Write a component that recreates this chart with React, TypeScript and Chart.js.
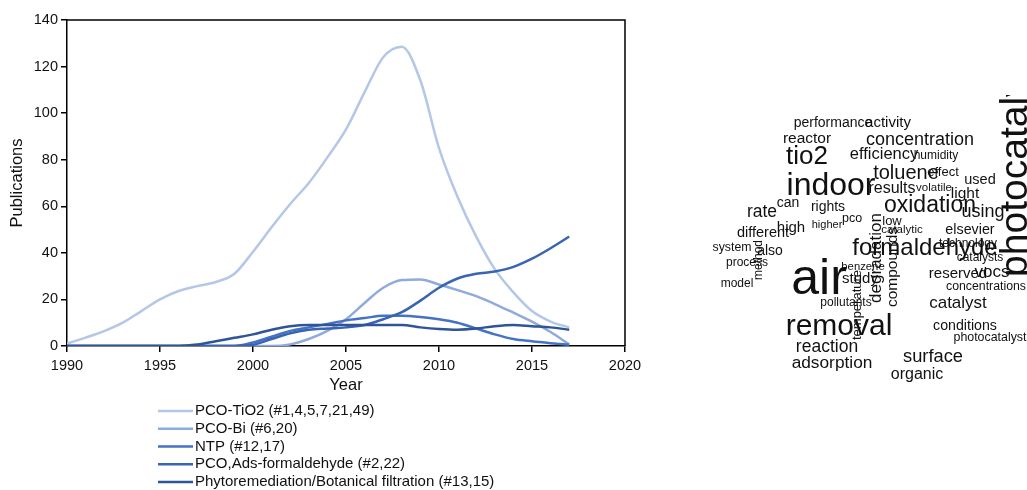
import React, { useEffect, useRef } from "react";
import { Chart, registerables } from "chart.js";

Chart.register(...registerables);

const FONT = '"Liberation Sans", Arial, sans-serif';

// ---------- line chart data ----------
const years = [
  1990, 1991, 1992, 1993, 1994, 1995, 1996, 1997, 1998, 1999,
  2000, 2001, 2002, 2003, 2004, 2005, 2006, 2007, 2008, 2009,
  2010, 2011, 2012, 2013, 2014, 2015, 2016, 2017,
];

const pcoTiO2 = [
  1, 3.6, 6.4, 10, 15, 20, 23.6, 25.7, 27.5, 31,
  40.5, 51, 61, 70, 81, 93, 109, 124, 128.5, 114,
  85, 64, 47, 33, 23, 15, 10.5, 8,
];
const pcoBi = [
  0, 0, 0, 0, 0, 0, 0, 0, 0, 0,
  0, 0, 0.7, 3, 6.5, 11.5, 18.5, 25, 28.3, 28.6,
  26.4, 24, 21.4, 18, 14.3, 10.5, 6, 0.7,
];
const ntp = [
  0, 0, 0, 0, 0, 0, 0, 0, 0, 0,
  1.5, 4, 6.5, 8, 9.5, 11, 12, 13, 13, 12.5,
  11.5, 10, 7.5, 5, 3, 2, 1.2, 0.5,
];
const pcoAdsFormaldehyde = [
  0, 0, 0, 0, 0, 0, 0, 0, 0, 0,
  0.5, 3, 5.5, 7, 7.5, 8, 9, 11.5, 14.5, 19.5,
  25, 29, 31, 32, 34, 37.5, 42, 47,
];
const phytoremediation = [
  0, 0, 0, 0, 0, 0, 0, 0.6, 2, 3.5,
  5, 7, 8.5, 9, 9, 9, 9, 9, 9, 8,
  7.3, 7, 7.5, 8.5, 9, 8.5, 8, 7,
];

const seriesLabels = [
  "PCO-TiO2 (#1,4,5,7,21,49)",
  "PCO-Bi (#6,20)",
  "NTP (#12,17)",
  "PCO,Ads-formaldehyde (#2,22)",
  "Phytoremediation/Botanical filtration (#13,15)",
];
const seriesValues = [pcoTiO2, pcoBi, ntp, pcoAdsFormaldehyde, phytoremediation];
const seriesColors = ["#b4c7e7", "#8faadc", "#4472c4", "#3864b4", "#2f5597"];

const xTicks = [1990, 1995, 2000, 2005, 2010, 2015, 2020];
const yTicks = [0, 20, 40, 60, 80, 100, 120, 140];

// ---------- word cloud data ----------
const words = [
  "performance", "activity", "reactor", "concentration", "tio2", "efficiency",
  "humidity", "toluene", "effect", "indoor", "results", "volatile", "used",
  "light", "oxidation", "using", "rate", "can", "rights", "higher", "pco",
  "high", "different", "low", "catalytic", "elsevier", "technology",
  "formaldehyde", "degradation", "compounds", "system", "also", "method",
  "process", "model", "air", "benzene", "study", "temperature", "pollutants",
  "reserved", "vocs", "catalysts", "concentrations", "catalyst", "removal",
  "conditions", "photocatalyst", "reaction", "adsorption", "surface",
  "organic", "photocatalyst",
];
// word weights (font size in px)
const wordWeight = [
  14, 15, 15.5, 18, 26, 16.5,
  12, 20, 13, 32, 16, 11.5, 14.5,
  15.5, 23, 18, 17.5, 14, 14, 11, 12.5,
  15, 14.5, 13, 11.5, 14.3, 12,
  24, 17, 15.5, 12.3, 14, 12,
  12, 12, 50, 11.3, 15, 13, 12,
  15, 17, 12, 12.3, 17, 30,
  14.2, 12.4, 17.5, 17.3, 18.3,
  16, 39,
];
// word-cloud layout (centre of each word in the cloud's coordinate space)
const wordX = [
  833, 888, 807, 920, 807, 884,
  936, 906, 943, 831, 892, 934, 980,
  965, 930, 983, 762, 788, 828, 827, 852,
  791, 763, 892, 902, 970, 968,
  925, 876, 893, 732, 770, 759,
  747, 737, 819, 863, 860, 857, 846,
  958, 992, 980, 986, 958, 839,
  965, 990, 827, 832, 933,
  917, 1016,
];
const wordY = [
  123, 123, 139, 140, 157, 154,
  156, 173, 172, 186, 189, 188, 180,
  194, 206, 212, 212, 203, 207, 225, 219,
  228, 233, 221, 230, 230, 244,
  248, 258, 267, 248, 251, 260,
  263, 284, 280, 267, 279, 305, 303,
  274, 272, 258, 287, 303, 327,
  326, 338, 347, 363, 357,
  375, 162,
];
const wordVertical = [
  0, 0, 0, 0, 0, 0,
  0, 0, 0, 0, 0, 0, 0,
  0, 0, 0, 0, 0, 0, 0, 0,
  0, 0, 0, 0, 0, 0,
  0, 1, 1, 0, 0, 1,
  0, 0, 0, 0, 0, 1, 0,
  0, 0, 0, 0, 0, 0,
  0, 0, 0, 0, 0,
  0, 1,
];

const framePlugin = {
  id: "frame",
  afterDraw(chart: any) {
    const { ctx, chartArea } = chart;
    ctx.save();
    ctx.strokeStyle = "#000";
    ctx.lineWidth = 1.5;
    ctx.beginPath();
    ctx.moveTo(chartArea.left, chartArea.top);
    ctx.lineTo(chartArea.right, chartArea.top);
    ctx.lineTo(chartArea.right, chartArea.bottom);
    ctx.stroke();
    ctx.restore();
  },
};

const legendPlugin = {
  id: "sideLegend",
  afterDraw(chart: any) {
    const { ctx, chartArea } = chart;
    const x0 = chartArea.left + 91;
    const lineLen = 35;
    const top = 411;
    const step = 17.75;
    ctx.save();
    ctx.font = `15px ${FONT}`;
    ctx.textBaseline = "middle";
    ctx.textAlign = "left";
    chart.data.datasets.forEach((ds: any, i: number) => {
      const y = top + i * step;
      ctx.strokeStyle = ds.borderColor;
      ctx.lineWidth = 2.5;
      ctx.beginPath();
      ctx.moveTo(x0, y);
      ctx.lineTo(x0 + lineLen, y);
      ctx.stroke();
      ctx.fillStyle = "#111";
      ctx.fillText(ds.label, x0 + lineLen + 2, y);
    });
    ctx.restore();
  },
};

const wordPlugin = {
  id: "words",
  afterDatasetsDraw(chart: any) {
    const { ctx } = chart;
    const meta = chart.getDatasetMeta(0);
    ctx.save();
    ctx.fillStyle = "#111";
    ctx.textAlign = "center";
    ctx.textBaseline = "middle";
    meta.data.forEach((pt: any, i: number) => {
      ctx.save();
      ctx.translate(pt.x, pt.y);
      if (wordVertical[i]) ctx.rotate(-Math.PI / 2);
      ctx.font = `${wordWeight[i]}px ${FONT}`;
      ctx.fillText(words[i], 0, 0);
      ctx.restore();
    });
    ctx.restore();
  },
};

export default function App() {
  const lineRef = useRef<HTMLCanvasElement | null>(null);
  const cloudRef = useRef<HTMLCanvasElement | null>(null);

  useEffect(() => {
    if (!lineRef.current || !cloudRef.current) return;
    Chart.defaults.font.family = FONT;

    const tickFont = { family: FONT, size: 14.5 };
    const titleFont = { family: FONT, size: 16.5 };

    const lineChart = new Chart(lineRef.current, {
      type: "line",
      data: {
        datasets: seriesValues.map((vals, i) => ({
          label: seriesLabels[i],
          data: years.map((yr, j) => ({ x: yr, y: vals[j] })),
          borderColor: seriesColors[i],
          backgroundColor: seriesColors[i],
          borderWidth: 2.5,
          pointRadius: 0,
          fill: false,
          cubicInterpolationMode: "monotone",
          order: seriesValues.length - i,
        })),
      },
      options: {
        animation: false,
        responsive: false,
        layout: { padding: { left: 0, right: 35, top: 20, bottom: 91 } },
        plugins: { legend: { display: false }, tooltip: { enabled: false } },
        scales: {
          x: {
            type: "linear",
            min: xTicks[0],
            max: xTicks[xTicks.length - 1],
            afterBuildTicks: (s: any) => {
              s.ticks = xTicks.map((v) => ({ value: v }));
            },
            ticks: {
              callback: (v: any) => String(v),
              font: tickFont,
              color: "#111",
              padding: 5,
              maxRotation: 0,
              autoSkip: false,
            },
            grid: { drawOnChartArea: false, drawTicks: true, tickLength: 6, color: "#000", lineWidth: 1.5 },
            border: { color: "#000", width: 1.5 },
            title: { display: true, text: "Year", font: titleFont, color: "#111", padding: { top: 4, bottom: 4 } },
            afterFit: (s: any) => {
              s.height = 53;
            },
          },
          y: {
            min: yTicks[0],
            max: yTicks[yTicks.length - 1],
            afterBuildTicks: (s: any) => {
              s.ticks = yTicks.map((v) => ({ value: v }));
            },
            ticks: { font: tickFont, color: "#111", padding: 3, autoSkip: false },
            grid: { drawOnChartArea: false, drawTicks: true, tickLength: 6, color: "#000", lineWidth: 1.5 },
            border: { color: "#000", width: 1.5 },
            title: { display: true, text: "Publications", font: titleFont, color: "#111", padding: { top: 8, bottom: 4 } },
            afterFit: (s: any) => {
              s.width = 67;
            },
          },
        },
      } as any,
      plugins: [framePlugin, legendPlugin],
    });

    const cloudChart = new Chart(cloudRef.current, {
      type: "scatter",
      data: {
        datasets: [
          {
            data: words.map((_, i) => ({ x: wordX[i], y: wordY[i] })),
            pointRadius: 0,
          },
        ],
      },
      options: {
        animation: false,
        responsive: false,
        layout: { padding: 0 },
        plugins: { legend: { display: false }, tooltip: { enabled: false } },
        scales: {
          x: { type: "linear", min: 700, max: 1027, display: false },
          y: { type: "linear", min: 95, max: 395, reverse: true, display: false },
        },
      } as any,
      plugins: [wordPlugin],
    });

    return () => {
      lineChart.destroy();
      cloudChart.destroy();
    };
  }, []);

  return (
    <div
      style={{
        position: "fixed",
        left: 0,
        top: 0,
        width: 1027,
        height: 490,
        overflow: "hidden",
        background: "#fff",
      }}
    >
      <canvas
        ref={lineRef}
        width={660}
        height={490}
        style={{ position: "absolute", left: 0, top: 0, width: 660, height: 490 }}
      />
      <canvas
        ref={cloudRef}
        width={327}
        height={300}
        style={{ position: "absolute", left: 700, top: 95, width: 327, height: 300 }}
      />
    </div>
  );
}
